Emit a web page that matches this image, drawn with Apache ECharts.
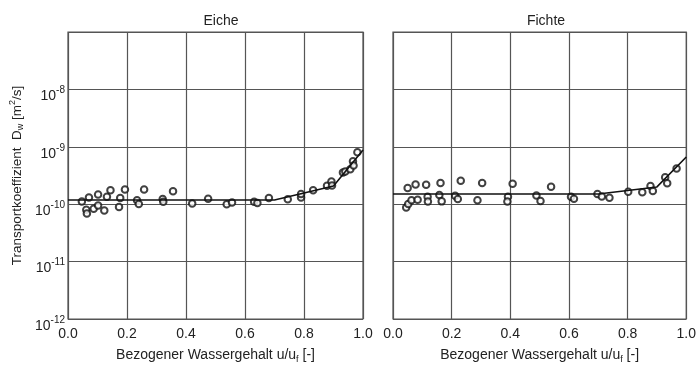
<!DOCTYPE html>
<html>
<head>
<meta charset="utf-8">
<script src="https://cdn.jsdelivr.net/npm/echarts@6/dist/echarts.min.js"></script>
<style>html,body{margin:0;padding:0;background:#fff;}#c{width:699px;height:369px;}</style>
</head>
<body>
<div id="c"></div>
<script>
// Panel titles
const panelTitles = ['Eiche', 'Fichte'];
// X tick values
const xTicks = [0.0, 0.2, 0.4, 0.6, 0.8, 1.0];
// Y decades (log axis)
const yDecades = [1e-12, 1e-11, 1e-10, 1e-9, 1e-8, 1e-7];

// Eiche measured points
const eicheX = [0.047,0.071,0.062,0.064,0.087,0.102,0.102,0.123,0.132,0.144,0.173,0.177,0.193,0.234,0.240,0.258,0.321,0.323,0.356,0.421,0.475,0.538,0.556,0.631,0.642,0.681,0.745,0.790,0.790,0.831,0.878,0.893,0.895,0.932,0.940,0.957,0.966,0.968,0.981];
const eicheY = [1.11e-10,1.31e-10,0.80e-10,0.69e-10,0.83e-10,1.48e-10,0.95e-10,0.78e-10,1.35e-10,1.75e-10,0.89e-10,1.28e-10,1.80e-10,1.17e-10,1.01e-10,1.80e-10,1.23e-10,1.10e-10,1.68e-10,1.03e-10,1.25e-10,1.00e-10,1.07e-10,1.10e-10,1.05e-10,1.28e-10,1.22e-10,1.31e-10,1.51e-10,1.75e-10,2.09e-10,2.48e-10,2.12e-10,3.56e-10,3.71e-10,4.07e-10,5.6e-10,4.74e-10,8.07e-10];
// Eiche fitted curve
const eicheFitX = [0.0, 0.70, 0.90, 1.0];
const eicheFitY = [1.18e-10, 1.18e-10, 2.07e-10, 8.8e-10];

// Fichte measured points
const fichteX = [0.045,0.052,0.050,0.063,0.077,0.084,0.113,0.118,0.119,0.162,0.158,0.166,0.212,0.221,0.231,0.288,0.304,0.392,0.390,0.408,0.489,0.503,0.539,0.607,0.617,0.697,0.712,0.738,0.802,0.850,0.878,0.886,0.928,0.935,0.967];
const fichteY = [0.88e-10,1.01e-10,1.91e-10,1.17e-10,2.21e-10,1.20e-10,2.18e-10,1.35e-10,1.11e-10,2.35e-10,1.44e-10,1.12e-10,1.40e-10,1.23e-10,2.55e-10,1.17e-10,2.35e-10,1.35e-10,1.11e-10,2.27e-10,1.42e-10,1.14e-10,2.01e-10,1.35e-10,1.25e-10,1.51e-10,1.36e-10,1.30e-10,1.64e-10,1.62e-10,2.07e-10,1.70e-10,2.94e-10,2.32e-10,4.17e-10];
// Fichte fitted curve
const fichteFitX = [0.0, 0.70, 0.90, 1.0];
const fichteFitY = [1.51e-10, 1.51e-10, 2.0e-10, 6.65e-10];

const zip = (a, b) => a.map((v, i) => [v, b[i]]);
const FONT = 'Liberation Sans, Arial, sans-serif';
const INK = '#222';
const GRIDC = '#555';

const grids = [
  { left: 68, top: 32, width: 295, height: 293, show: true, borderColor: GRIDC, borderWidth: 1.2 },
  { left: 393, top: 32, width: 296, height: 293, show: true, borderColor: GRIDC, borderWidth: 1.2 }
];

function xAxis(i) {
  return {
    type: 'value', gridIndex: i, min: xTicks[0], max: xTicks[xTicks.length - 1], interval: 0.2,
    axisLine: { show: false }, axisTick: { show: false },
    splitLine: { show: true, lineStyle: { color: GRIDC, width: 1.2 } },
    axisLabel: { show: true, margin: 8, color: INK, fontFamily: FONT, fontSize: 14,
      formatter: v => v.toFixed(1) },
    name: 'Bezogener Wassergehalt u/u{s|f} [-]',
    nameLocation: 'middle', nameGap: 28,
    nameTextStyle: { color: INK, fontFamily: FONT, fontSize: 14,
      rich: { s: { fontSize: 9, fontFamily: FONT, color: INK, padding: [8, 0, 0, 0] } } }
  };
}

function yAxis(i) {
  return {
    type: 'log', logBase: 10, gridIndex: i, min: yDecades[0], max: yDecades[yDecades.length - 1],
    axisLine: { show: false }, axisTick: { show: false },
    splitLine: { show: true, lineStyle: { color: GRIDC, width: 1.2 } },
    minorTick: { show: false },
    axisLabel: {
      show: i === 0, margin: 3, color: INK, fontFamily: FONT, fontSize: 14,
      padding: [10, 0, 0, 0],
      formatter: v => {
        const e = Math.round(Math.log10(v));
        if (e === -7) return '';
        return '{b|10}{s|' + e + '}';
      },
      rich: {
        b: { fontSize: 14, fontFamily: FONT, color: INK, lineHeight: 18, verticalAlign: 'bottom' },
        s: { fontSize: 10, fontFamily: FONT, color: INK, verticalAlign: 'top' }
      }
    },
    name: i === 0 ? '{a|Transportkoeffizient  D}{s|w}{a| [m}{p|2}{a|/s]}' : '',
    nameLocation: 'middle', nameGap: 42,
    nameTextStyle: {
      color: INK, fontFamily: FONT, fontSize: 14,
      rich: {
        a: { fontSize: 13.5, fontFamily: FONT, color: INK, lineHeight: 18 },
        s: { fontSize: 9, fontFamily: FONT, color: INK, padding: [8, 0, 0, 0] },
        p: { fontSize: 9, fontFamily: FONT, color: INK, verticalAlign: 'top' }
      }
    }
  };
}

const chart = echarts.init(document.getElementById('c'), null, { renderer: 'canvas' });
chart.setOption({
  backgroundColor: '#fff',
  animation: false,
  title: [
    { text: panelTitles[0], left: 216, top: 9, textAlign: 'center',
      textStyle: { fontFamily: FONT, fontSize: 14, fontWeight: 'normal', color: INK } },
    { text: panelTitles[1], left: 541, top: 9, textAlign: 'center',
      textStyle: { fontFamily: FONT, fontSize: 14, fontWeight: 'normal', color: INK } }
  ],
  grid: grids,
  xAxis: [xAxis(0), xAxis(1)],
  yAxis: [yAxis(0), yAxis(1)],
  series: [
    { type: 'scatter', xAxisIndex: 0, yAxisIndex: 0, data: zip(eicheX, eicheY),
      symbol: 'emptyCircle', symbolSize: 6.5, itemStyle: { color: '#111', borderWidth: 1.6 } },
    { type: 'line', xAxisIndex: 0, yAxisIndex: 0, data: zip(eicheFitX, eicheFitY),
      showSymbol: false, symbol: 'none', lineStyle: { color: '#111', width: 1.6 }, z: 3 },
    { type: 'scatter', xAxisIndex: 1, yAxisIndex: 1, data: zip(fichteX, fichteY),
      symbol: 'emptyCircle', symbolSize: 6.5, itemStyle: { color: '#111', borderWidth: 1.6 } },
    { type: 'line', xAxisIndex: 1, yAxisIndex: 1, data: zip(fichteFitX, fichteFitY),
      showSymbol: false, symbol: 'none', lineStyle: { color: '#111', width: 1.6 }, z: 3 }
  ]
});
</script>
</body>
</html>
